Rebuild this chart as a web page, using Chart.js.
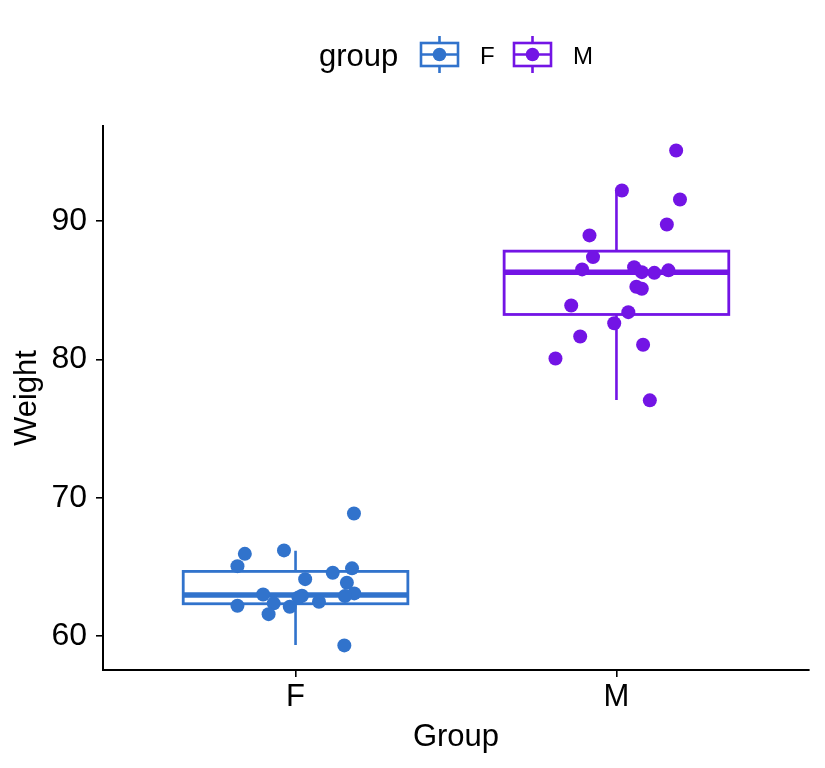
<!DOCTYPE html>
<html>
<head>
<meta charset="utf-8">
<script src="https://cdn.jsdelivr.net/npm/chart.js@4/dist/chart.umd.min.js"></script>
<style>
html,body{margin:0;padding:0;background:#ffffff;}
#wrap{width:825px;height:768px;}
</style>
</head>
<body>
<div id="wrap"><canvas id="c" width="825" height="768"></canvas></div>
<script>
// ---------- data ----------
const categories = ['F', 'M'];
const legendTitle = 'group';
const xTitle = 'Group';
const yTitle = 'Weight';
const yTicks = [60, 70, 80, 90];

// jittered points (x in category units, 1 = F, 2 = M)
const xF = [1.182, 0.842, 0.964, 0.819, 1.176, 1.116, 1.030, 1.160, 0.899, 1.020,
            1.009, 1.183, 1.154, 0.932, 0.819, 1.073, 0.982, 0.916, 1.152];
const weightF = [68.86, 65.94, 66.19, 65.05, 64.89, 64.57, 64.11, 63.85, 63.00, 62.91,
                 62.79, 63.08, 62.89, 62.36, 62.19, 62.48, 62.11, 61.58, 59.32];

const xM = [2.186, 2.017, 2.198, 2.157, 1.916, 1.927, 1.893, 2.055, 2.079, 2.118,
            2.162, 2.062, 2.079, 1.859, 2.037, 1.993, 1.887, 2.083, 1.810, 2.104];
const weightM = [95.11, 92.22, 91.57, 89.76, 88.97, 87.40, 86.51, 86.67, 86.31, 86.26,
                 86.44, 85.25, 85.11, 83.90, 83.42, 82.62, 81.66, 81.06, 80.07, 77.04];

// box-plot statistics per category
const whiskerLow  = [59.34, 77.06];
const q1          = [62.33, 83.25];
const median      = [62.96, 86.31];
const q3          = [64.67, 87.83];
const whiskerHigh = [66.16, 92.22];

// ---------- styles ----------
const colors = ['#3173CC', '#7314E5'];
const FONT = '"Liberation Sans", Arial, Helvetica, sans-serif';
const BOX_HALF = 0.35;

const boxPlugin = {
  id: 'boxes',
  beforeDatasetsDraw(chart) {
    const ctx = chart.ctx;
    const xs = chart.scales.x, ys = chart.scales.y;
    categories.forEach((c, i) => {
      const cx = xs.getPixelForValue(i + 1);
      const left = xs.getPixelForValue(i + 1 - BOX_HALF);
      const right = xs.getPixelForValue(i + 1 + BOX_HALF);
      const yLo = ys.getPixelForValue(whiskerLow[i]);
      const yQ1 = ys.getPixelForValue(q1[i]);
      const yMed = ys.getPixelForValue(median[i]);
      const yQ3 = ys.getPixelForValue(q3[i]);
      const yHi = ys.getPixelForValue(whiskerHigh[i]);
      ctx.save();
      ctx.strokeStyle = colors[i];
      ctx.lineWidth = 2.6;
      ctx.lineCap = 'butt';
      ctx.beginPath();
      ctx.moveTo(cx, yQ3); ctx.lineTo(cx, yHi);
      ctx.moveTo(cx, yQ1); ctx.lineTo(cx, yLo);
      ctx.stroke();
      ctx.fillStyle = '#ffffff';
      ctx.fillRect(left, yQ3, right - left, yQ1 - yQ3);
      ctx.lineWidth = 2.8;
      ctx.strokeRect(left, yQ3, right - left, yQ1 - yQ3);
      ctx.lineWidth = 5.5;
      ctx.beginPath();
      ctx.moveTo(left, yMed); ctx.lineTo(right, yMed);
      ctx.stroke();
      ctx.restore();
    });
  }
};

const legendPlugin = {
  id: 'ggLegend',
  afterDraw(chart) {
    const ctx = chart.ctx;
    ctx.save();
    ctx.fillStyle = '#000000';
    ctx.textBaseline = 'alphabetic';
    ctx.textAlign = 'left';
    ctx.font = '31px ' + FONT;
    ctx.fillText(legendTitle, 319, 66);
    const keyX = [421, 514];
    const labelX = [480, 573];
    chart.data.datasets.forEach((ds, i) => {
      const x0 = keyX[i], w = 37, y0 = 43, h = 23;
      const cx = x0 + w / 2, cy = y0 + h / 2;
      ctx.strokeStyle = ds.borderColor;
      ctx.lineWidth = 2.6;
      ctx.fillStyle = '#ffffff';
      ctx.fillRect(x0, y0, w, h);
      ctx.strokeRect(x0, y0, w, h);
      ctx.beginPath();
      ctx.moveTo(cx, y0 - 7); ctx.lineTo(cx, y0);
      ctx.moveTo(cx, y0 + h); ctx.lineTo(cx, y0 + h + 7);
      ctx.moveTo(x0, cy); ctx.lineTo(x0 + w, cy);
      ctx.stroke();
      ctx.fillStyle = ds.backgroundColor;
      ctx.beginPath();
      ctx.arc(cx, cy, 6.8, 0, Math.PI * 2);
      ctx.fill();
      ctx.fillStyle = '#000000';
      ctx.font = '24px ' + FONT;
      ctx.fillText(ds.label, labelX[i], 64);
    });
    ctx.restore();
  }
};

new Chart(document.getElementById('c'), {
  type: 'scatter',
  data: {
    datasets: [
      {
        label: categories[0],
        data: weightF.map((y, i) => ({ x: xF[i], y })),
        backgroundColor: colors[0], borderColor: colors[0],
        pointRadius: 7, pointBorderWidth: 0, pointHoverRadius: 7
      },
      {
        label: categories[1],
        data: weightM.map((y, i) => ({ x: xM[i], y })),
        backgroundColor: colors[1], borderColor: colors[1],
        pointRadius: 7, pointBorderWidth: 0, pointHoverRadius: 7
      }
    ]
  },
  options: {
    responsive: false,
    devicePixelRatio: 1,
    animation: false,
    layout: { padding: { top: 126, right: 16, left: 0, bottom: 0 } },
    plugins: { legend: { display: false }, tooltip: { enabled: false } },
    scales: {
      x: {
        type: 'linear',
        min: 0.4, max: 2.6,
        afterBuildTicks: (s) => { s.ticks = categories.map((c, i) => ({ value: i + 1 })); },
        afterFit: (s) => { s.height = 98; },
        ticks: {
          callback: (v) => categories[Math.round(v) - 1],
          font: { family: FONT, size: 31 }, color: '#000000', padding: 2,
          maxRotation: 0, autoSkip: false
        },
        grid: { drawOnChartArea: false, drawTicks: true, tickLength: 7, color: '#000000', lineWidth: 1.6 },
        border: { display: true, color: '#000000', width: 2 },
        title: { display: true, text: xTitle, color: '#000000',
                 font: { family: FONT, size: 31 }, padding: { top: 0, bottom: 12 } }
      },
      y: {
        type: 'linear',
        min: 57.54, max: 96.88,
        afterBuildTicks: (s) => { s.ticks = yTicks.map(v => ({ value: v })); },
        afterFit: (s) => { s.width = 103; },
        ticks: {
          font: { family: FONT, size: 32 }, color: '#000000', padding: 9, autoSkip: false
        },
        grid: { drawOnChartArea: false, drawTicks: true, tickLength: 7, color: '#000000', lineWidth: 1.6 },
        border: { display: true, color: '#000000', width: 2 },
        title: { display: true, text: yTitle, color: '#000000',
                 font: { family: FONT, size: 31 }, padding: { top: 9 } }
      }
    }
  },
  plugins: [boxPlugin, legendPlugin]
});
</script>
</body>
</html>
